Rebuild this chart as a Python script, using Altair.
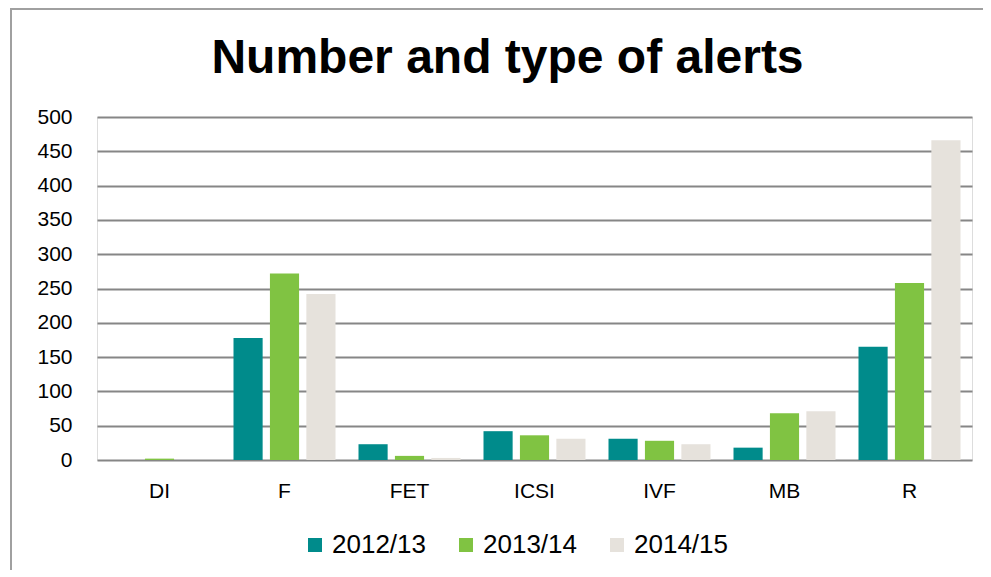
import altair as alt
import pandas as pd

categories = ["DI", "F", "FET", "ICSI", "IVF", "MB", "R"]
series_names = ["2012/13", "2013/14", "2014/15"]
values_2012 = [0, 178, 23, 42, 31, 18, 165]
values_2013 = [2, 272, 6, 36, 28, 68, 258]
values_2014 = [0, 242, 3, 31, 23, 71, 466]
colors = ["#008B8B", "#80C342", "#E6E2DC"]
y_ticks = [0, 50, 100, 150, 200, 250, 300, 350, 400, 450, 500]
title_text = ["Number and type of alerts"]

rows = []
for name, vals in zip(series_names, [values_2012, values_2013, values_2014]):
    for c, v in zip(categories, vals):
        rows.append({"type": c, "year": name, "alerts": v})
df = pd.DataFrame(rows)

FONT = "Liberation Sans"

bars = alt.Chart(df).mark_bar().encode(
    x=alt.X("type:N", sort=categories, title=None,
            scale=alt.Scale(paddingInner=0.184, paddingOuter=0.092),
            axis=alt.Axis(labelAngle=0, labelFontSize=21, labelColor="#000000",
                          labelFont=FONT, ticks=False, domain=False,
                          labelPadding=20, grid=False)),
    xOffset=alt.XOffset("year:N", sort=series_names,
                        scale=alt.Scale(paddingInner=0.2, paddingOuter=0)),
    y=alt.Y("alerts:Q", title=None,
            scale=alt.Scale(domain=[0, 500], nice=False),
            axis=alt.Axis(values=y_ticks, labelFontSize=21, labelColor="#000000",
                          labelFont=FONT, ticks=False, domain=False,
                          labelPadding=25, grid=True, gridColor="#868686",
                          gridWidth=1.8, gridOpacity=1)),
    color=alt.Color("year:N", sort=series_names,
                    scale=alt.Scale(domain=series_names, range=colors),
                    legend=alt.Legend(title=None, orient="none", direction="horizontal",
                                      legendX=205, legendY=415,
                                      symbolType="square", symbolSize=196,
                                      symbolStrokeWidth=0, labelFontSize=26,
                                      labelFont=FONT, labelColor="#000000",
                                      labelOffset=4, columnPadding=27,
                                      symbolOpacity=1)),
)

border = alt.Chart(pd.DataFrame({"k": [0]})).mark_rect(
    fill=None, stroke="#a0a0a0", strokeWidth=2
).encode(
    x=alt.value(-86), x2=alt.value(1200),
    y=alt.value(-108), y2=alt.value(800),
)

title = alt.Chart(pd.DataFrame({"t": title_text})).mark_text(
    font=FONT, fontSize=48, fontWeight="bold", color="#000000",
    align="center", baseline="alphabetic"
).encode(
    text="t:N", x=alt.value(410.5), y=alt.value(-44),
)

chart = alt.layer(border, bars, title).properties(
    width=875,
    height=343,
    autosize=alt.AutoSizeParams(type="none"),
    padding={"left": 89, "top": 109, "right": 11, "bottom": 110},
).configure_view(stroke=None).configure(background="#ffffff")

chart.save("out.html", embed_options={"renderer": "svg", "actions": False})
